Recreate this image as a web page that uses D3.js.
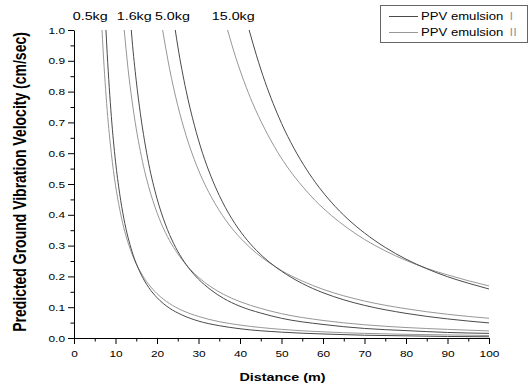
<!DOCTYPE html>
<html>
<head>
<meta charset="utf-8">
<script src="https://cdn.jsdelivr.net/npm/d3@7"></script>
<style>
  body { margin: 0; background: #fff; }
  svg { display: block; font-family: "Liberation Sans", Arial, sans-serif; }
</style>
</head>
<body>
<div id="chart"></div>
<script>
// Charge labels and their left position (distance units) at the top
const charges = ["0.5kg", "1.6kg", "5.0kg", "15.0kg"];
const chargeLabelX = [-0.3, 10.3, 19.5, 33.2];

// PPV emulsion I  [distance m, ppv cm/sec]
const ppvI_05 = [[7.7,1.0],[8,0.924],[9,0.719],[10,0.574],[11,0.469],[12,0.389],[14,0.280],[16,0.211],[18,0.164],[20,0.131],[23,0.097],[26,0.075],[30,0.055],[35,0.040],[40,0.030],[50,0.019],[60,0.013],[70,0.009],[80,0.007],[90,0.005],[100,0.004]];
const ppvI_16 = [[13.8,1.0],[14,0.968],[15,0.835],[16,0.728],[17,0.640],[18,0.566],[20,0.453],[22,0.370],[24,0.307],[26,0.259],[28,0.221],[30,0.191],[33,0.156],[36,0.129],[40,0.103],[45,0.081],[50,0.064],[60,0.044],[70,0.031],[80,0.024],[90,0.018],[100,0.015]];
const ppvI_50 = [[24.4,1.0],[25,0.948],[27,0.804],[29,0.691],[31,0.599],[33,0.525],[35,0.463],[38,0.388],[41,0.330],[44,0.284],[47,0.247],[50,0.217],[55,0.177],[60,0.147],[65,0.124],[70,0.106],[80,0.080],[90,0.062],[100,0.049]];
const ppvI_150 = [[42.2,1.0],[44,0.916],[46,0.833],[48,0.761],[50,0.697],[53,0.616],[56,0.548],[59,0.490],[62,0.441],[66,0.386],[70,0.341],[75,0.294],[80,0.256],[85,0.225],[90,0.199],[95,0.178],[100,0.159]];

// PPV emulsion II
const ppvII_05 = [[6.75,1.0],[7,0.938],[8,0.739],[9,0.599],[10,0.496],[11,0.419],[12,0.358],[14,0.272],[16,0.215],[18,0.174],[20,0.144],[23,0.112],[26,0.090],[30,0.070],[35,0.053],[40,0.042],[50,0.028],[60,0.020],[70,0.015],[80,0.012],[90,0.010],[100,0.008]];
const ppvII_16 = [[12.1,1.0],[13,0.877],[14,0.769],[15,0.679],[16,0.606],[17,0.543],[18,0.491],[20,0.407],[22,0.343],[24,0.294],[26,0.255],[28,0.223],[30,0.197],[33,0.166],[36,0.142],[40,0.118],[45,0.096],[50,0.079],[60,0.057],[70,0.043],[80,0.034],[90,0.028],[100,0.023]];
const ppvII_50 = [[21.35,1.0],[23,0.876],[25,0.755],[27,0.658],[29,0.579],[31,0.514],[33,0.460],[35,0.414],[38,0.357],[41,0.312],[44,0.275],[47,0.245],[50,0.219],[55,0.185],[60,0.158],[65,0.137],[70,0.120],[80,0.095],[90,0.077],[100,0.064]];
const ppvII_150 = [[37.0,1.0],[39,0.910],[41,0.832],[43,0.764],[46,0.678],[49,0.605],[52,0.544],[55,0.493],[58,0.448],[62,0.398],[66,0.356],[70,0.320],[75,0.283],[80,0.252],[85,0.226],[90,0.205],[95,0.186],[100,0.169]];

const seriesNames = ["PPV emulsion ", "PPV emulsion "];
const seriesMarks = ["I", "II"];
const seriesColors = ["#4a4a4a", "#979797"];

const xTicks = d3.range(0, 101, 10);
const xMinor = d3.range(5, 100, 10);
const yTicks = d3.range(0, 11).map(d => d / 10);
const yMinor = d3.range(0, 10).map(d => d / 10 + 0.05);

const width = 531, height = 388;
const margin = { left: 74, right: 42, top: 30, bottom: 50 };
const SX = 1.25; // glyphs in the original are wider than tall

const svg = d3.select('#chart').append('svg')
    .attr('width', width)
    .attr('height', height);

svg.append('rect').attr('width', width).attr('height', height).attr('fill', '#fff');

const x = d3.scaleLinear().domain([0, 100]).range([margin.left, width - margin.right]);
const y = d3.scaleLinear().domain([0, 1]).range([height - margin.bottom, margin.top]);

// stretch text horizontally around its own anchor
function stretch(sel, sx) {
    sel.each(function() {
        const t = d3.select(this);
        const tx = +t.attr('x') || 0;
        const ty = +t.attr('y') || 0;
        t.attr('x', 0).attr('y', 0)
         .attr('transform', `translate(${tx},${ty}) scale(${sx},1)`);
    });
}

// clip
svg.append('clipPath').attr('id', 'plot')
    .append('rect')
    .attr('x', x(0)).attr('y', y(1))
    .attr('width', x(100) - x(0)).attr('height', y(0) - y(1));

// curves
const line = d3.line()
    .x(d => x(d[0]))
    .y(d => y(d[1]))
    .curve(d3.curveMonotoneX);

const curves = [
    { data: ppvII_05, s: 1 }, { data: ppvII_16, s: 1 }, { data: ppvII_50, s: 1 }, { data: ppvII_150, s: 1 },
    { data: ppvI_05, s: 0 }, { data: ppvI_16, s: 0 }, { data: ppvI_50, s: 0 }, { data: ppvI_150, s: 0 }
];

svg.append('g').attr('clip-path', 'url(#plot)')
    .selectAll('path')
    .data(curves)
    .enter()
    .append('path')
    .attr('d', d => line(d.data))
    .attr('fill', 'none')
    .attr('stroke', d => seriesColors[d.s])
    .attr('stroke-width', 1);

// minor ticks
svg.append('g')
    .attr('transform', `translate(0,${y(0)})`)
    .call(d3.axisBottom(x).tickValues(xMinor).tickSize(3.5).tickFormat(''))
    .call(g => g.select('.domain').remove());
svg.append('g')
    .attr('transform', `translate(${x(0)},0)`)
    .call(d3.axisLeft(y).tickValues(yMinor).tickSize(3.5).tickFormat(''))
    .call(g => g.select('.domain').remove());

// major axes
const xAxis = svg.append('g')
    .attr('transform', `translate(0,${y(0)})`)
    .call(d3.axisBottom(x).tickValues(xTicks).tickSize(6).tickSizeOuter(0).tickPadding(6.5));
xAxis.selectAll('text').style('font-size', '9.5px').attr('fill', '#000');
stretch(xAxis.selectAll('text'), SX);

const yAxis = svg.append('g')
    .attr('transform', `translate(${x(0)},0)`)
    .call(d3.axisLeft(y).tickValues(yTicks).tickFormat(d3.format('.1f')).tickSize(6).tickSizeOuter(0).tickPadding(3));
yAxis.selectAll('text').style('font-size', '9.5px').attr('fill', '#000');
stretch(yAxis.selectAll('text'), SX);

svg.selectAll('.domain, .tick line').attr('stroke', '#000');

// charge labels
svg.selectAll('.charge')
    .data(charges)
    .enter()
    .append('text')
    .attr('class', 'charge')
    .attr('transform', (d, i) => `translate(${x(chargeLabelX[i])},20) scale(1.3,1)`)
    .style('font-size', '11px')
    .attr('fill', '#000')
    .text(d => d);

// axis titles
svg.append('text')
    .attr('transform', `translate(282.5,381) scale(${SX},1)`)
    .attr('text-anchor', 'middle')
    .style('font-size', '11.5px')
    .style('font-weight', 'bold')
    .text('Distance (m)');

svg.append('text')
    .attr('transform', `translate(20,182) rotate(-90) scale(1,${SX})`)
    .attr('text-anchor', 'middle')
    .attr('dy', '0.35em')
    .style('font-size', '14px')
    .style('font-weight', 'bold')
    .text('Predicted Ground Vibration Velocity (cm/sec)');

// legend
const legend = svg.append('g').attr('class', 'legend');
legend.append('rect')
    .attr('x', 380.5).attr('y', 5.5)
    .attr('width', 147).attr('height', 37)
    .attr('fill', '#fff')
    .attr('stroke', '#666');

const rows = legend.selectAll('.row')
    .data(seriesNames)
    .enter()
    .append('g')
    .attr('class', 'row')
    .attr('transform', (d, i) => `translate(0,${16.5 + i * 16})`);

rows.append('line')
    .attr('x1', 389).attr('x2', 418)
    .attr('stroke', (d, i) => seriesColors[i]);

const lt = rows.append('text')
    .attr('transform', `translate(421,3.8) scale(${SX},1)`)
    .style('font-size', '10.5px')
    .attr('fill', '#000')
    .text(d => d);
lt.append('tspan')
    .attr('fill', '#999')
    .attr('dx', 2)
    .text((d, i) => seriesMarks[i]);
</script>
</body>
</html>
